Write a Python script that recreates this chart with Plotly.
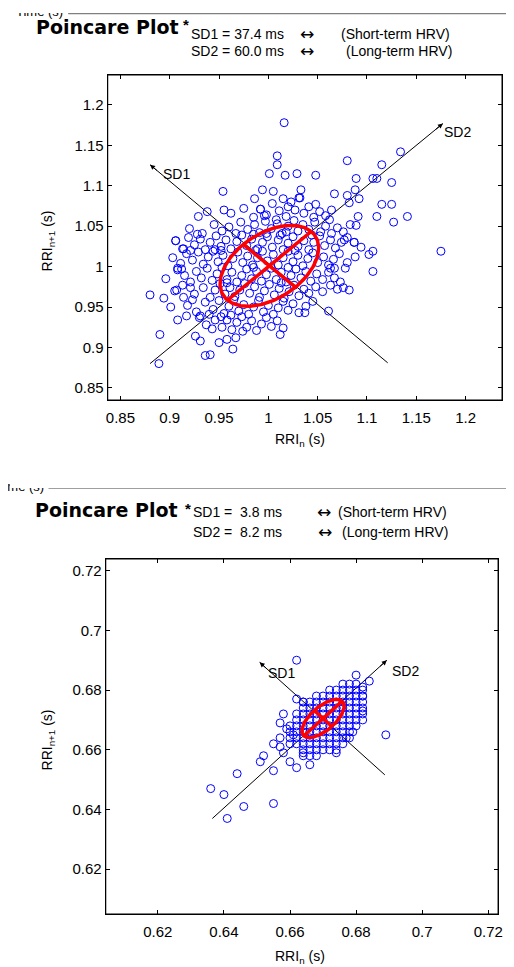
import numpy as np
import plotly.graph_objects as go

# page has an 8px body margin, so the figure is drawn 8px in from the window edge
OFF = 8
W, H = 514 - OFF, 967 - OFF

# ---- summary values (ms) and cloud centres (s)
TOP_SD1, TOP_SD2 = 37.4, 60.0
BOT_SD1, BOT_SD2 = 3.8, 8.2
TOP_CENTER = (1.001, 1.001)
BOT_CENTER = (0.670, 0.6705)

TOP_TICKS = [0.85, 0.9, 0.95, 1.0, 1.05, 1.1, 1.15, 1.2]
TOP_TICK_TEXT = ["0.85", "0.9", "0.95", "1", "1.05", "1.1", "1.15", "1.2"]
BOT_TICKS = [0.62, 0.64, 0.66, 0.68, 0.7, 0.72]
BOT_TICK_TEXT = ["0.62", "0.64", "0.66", "0.68", "0.7", "0.72"]

# SD1 / SD2 guide lines (start, arrow tip)
TOP_SD2_LINE = [(0.880, 0.880), (1.177, 1.177)]
TOP_SD1_LINE = [(1.121, 0.881), (0.880, 1.126)]
BOT_SD2_LINE = [(0.6365, 0.6370), (0.6893, 0.6900)]
BOT_SD1_LINE = [(0.6887, 0.6516), (0.6508, 0.6893)]

# ---- top plot points (RRI_n, RRI_n+1)
TOP_OUTER = [
    (1.016, 1.178), (1.009, 1.137), (1.009, 1.126), (1.001, 1.115), (1.017, 1.113),
    (1.029, 1.115), (1.048, 1.113), (1.080, 1.131), (1.115, 1.126), (1.134, 1.142),
    (1.089, 1.109), (1.106, 1.109), (1.110, 1.109), (1.125, 1.104), (1.067, 1.090),
    (1.080, 1.088), (1.088, 1.095), (1.092, 1.084), (1.082, 1.079), (1.115, 1.077),
    (1.125, 1.077), (1.091, 1.062), (1.110, 1.062), (1.127, 1.055), (1.141, 1.062),
    (1.089, 1.051), (1.175, 1.019), (1.106, 1.019), (1.102, 1.015), (1.106, 0.994),
    (1.061, 0.945), (1.037, 0.943), (1.082, 0.971), (1.076, 0.974), (1.063, 0.998),
    (1.067, 0.998), (1.078, 0.998), (1.087, 1.030), (1.077, 1.033), (0.994, 1.095),
    (1.005, 1.093), (0.986, 1.084), (1.033, 1.095), (1.032, 1.085), (0.954, 1.093),
    (0.955, 1.070), (0.938, 1.068), (0.929, 1.062), (0.992, 1.071), (0.996, 1.063),
    (1.020, 1.074), (1.048, 1.077), (0.880, 0.965), (0.894, 0.961), (0.901, 0.950),
    (0.908, 0.934), (0.890, 0.916), (0.889, 0.880), (0.917, 0.939), (0.914, 0.962),
    (0.906, 1.032), (0.908, 0.998), (0.907, 0.971), (0.921, 0.974), (0.923, 0.959),
    (0.926, 0.914), (0.931, 0.908), (0.936, 0.890), (0.941, 0.891), (0.950, 0.906),
    (0.958, 0.910), (0.964, 0.898), (0.967, 0.912), (1.012, 0.916), (0.931, 0.939),
    (0.943, 0.923), (0.921, 1.020), (0.914, 1.022),
]
TOP_CORE = [
    (0.962, 1.066), (0.975, 1.072), (0.985, 1.061), (0.992, 1.071), (0.998, 1.064),
    (1.004, 1.078), (1.011, 1.069), (1.018, 1.062), (1.023, 1.080), (1.027, 1.070),
    (1.031, 1.085), (1.036, 1.066), (1.041, 1.074), (1.046, 1.061), (1.052, 1.068),
    (1.058, 1.063), (1.064, 1.070), (1.015, 1.084), (1.008, 1.058),
    (0.920, 1.047), (0.933, 1.041), (0.945, 1.052), (0.953, 1.044), (0.960, 1.049),
    (0.967, 1.041), (0.972, 1.055), (0.979, 1.046), (0.986, 1.052), (0.991, 1.042),
    (0.997, 1.056), (1.003, 1.047), (1.009, 1.053), (1.014, 1.041), (1.020, 1.050),
    (1.026, 1.057), (1.030, 1.044), (1.035, 1.052), (1.041, 1.046), (1.047, 1.055),
    (1.053, 1.043), (1.058, 1.050), (1.064, 1.041), (1.070, 1.048), (1.076, 1.043),
    (1.083, 1.052), (1.062, 1.058), (0.998, 1.041), (1.018, 1.043),
    (0.906, 1.032), (0.913, 1.022), (0.919, 1.036), (0.925, 1.027), (0.931, 1.034),
    (0.936, 1.021), (0.941, 1.030), (0.947, 1.038), (0.952, 1.025), (0.957, 1.033),
    (0.962, 1.022), (0.968, 1.031), (0.973, 1.039), (0.978, 1.026), (0.983, 1.034),
    (0.989, 1.022), (0.994, 1.030), (0.999, 1.037), (1.004, 1.024), (1.010, 1.033),
    (1.015, 1.021), (1.020, 1.029), (1.025, 1.037), (1.030, 1.025), (1.036, 1.032),
    (1.041, 1.021), (1.046, 1.030), (1.052, 1.038), (1.057, 1.026), (1.063, 1.033),
    (1.068, 1.023), (1.074, 1.030), (1.080, 1.036), (1.087, 1.030), (1.094, 1.024),
    (0.928, 1.040), (0.946, 1.021), (0.985, 1.040), (1.012, 1.039), (1.044, 1.039),
    (0.903, 1.011), (0.911, 1.004), (0.917, 1.016), (0.923, 1.008), (0.929, 1.018),
    (0.934, 1.003), (0.939, 1.012), (0.944, 1.019), (0.949, 1.006), (0.954, 1.014),
    (0.959, 1.001), (0.964, 1.010), (0.969, 1.018), (0.974, 1.005), (0.979, 1.013),
    (0.984, 1.002), (0.989, 1.011), (0.994, 1.019), (0.999, 1.007), (1.005, 1.015),
    (1.010, 1.002), (1.015, 1.011), (1.020, 1.019), (1.025, 1.006), (1.030, 1.014),
    (1.035, 1.001), (1.040, 1.010), (1.045, 1.017), (1.050, 1.005), (1.056, 1.012),
    (1.061, 1.002), (1.066, 1.009), (1.072, 1.016), (1.080, 1.005), (1.088, 1.012),
    (0.952, 1.020), (0.987, 1.020), (1.027, 1.020),
    (0.896, 0.985), (0.908, 0.996), (0.915, 0.989), (0.921, 0.981), (0.927, 0.994),
    (0.932, 0.986), (0.938, 0.998), (0.943, 0.983), (0.948, 0.991), (0.953, 0.999),
    (0.958, 0.984), (0.963, 0.993), (0.968, 0.981), (0.973, 0.989), (0.978, 0.997),
    (0.983, 0.985), (0.988, 0.994), (0.993, 0.982), (0.998, 0.990), (1.003, 0.998),
    (1.008, 0.984), (1.013, 0.993), (1.018, 0.981), (1.023, 0.989), (1.028, 0.997),
    (1.033, 0.986), (1.038, 0.994), (1.043, 0.982), (1.049, 0.991), (1.055, 0.984),
    (1.061, 0.993), (1.067, 0.986), (1.073, 0.981), (0.912, 0.997), (0.985, 0.999),
    (1.020, 0.999),
    (0.905, 0.970), (0.913, 0.977), (0.925, 0.966), (0.934, 0.974), (0.941, 0.962),
    (0.946, 0.971), (0.951, 0.979), (0.956, 0.966), (0.961, 0.974), (0.966, 0.963),
    (0.971, 0.971), (0.976, 0.979), (0.981, 0.967), (0.986, 0.975), (0.991, 0.962),
    (0.996, 0.970), (1.001, 0.978), (1.006, 0.965), (1.011, 0.973), (1.016, 0.961),
    (1.021, 0.969), (1.026, 0.977), (1.031, 0.964), (1.036, 0.972), (1.041, 0.967),
    (1.048, 0.975), (1.055, 0.969), (1.063, 0.977), (1.070, 0.972), (0.958, 0.980),
    (1.013, 0.980),
    (0.918, 0.952), (0.927, 0.944), (0.936, 0.956), (0.944, 0.947), (0.950, 0.958),
    (0.955, 0.942), (0.960, 0.951), (0.965, 0.959), (0.970, 0.945), (0.975, 0.953),
    (0.980, 0.941), (0.985, 0.950), (0.990, 0.958), (0.995, 0.944), (1.000, 0.952),
    (1.005, 0.941), (1.010, 0.949), (1.015, 0.957), (1.020, 0.946), (1.025, 0.954),
    (1.031, 0.943), (1.038, 0.951), (1.045, 0.957), (0.940, 0.941), (0.962, 0.940),
    (0.930, 0.937), (0.937, 0.928), (0.946, 0.934), (0.953, 0.925), (0.958, 0.934),
    (0.963, 0.922), (0.968, 0.931), (0.973, 0.938), (0.978, 0.925), (0.983, 0.933),
    (0.988, 0.921), (0.993, 0.929), (0.998, 0.937), (1.003, 0.926), (1.009, 0.933),
    (1.015, 0.924), (0.974, 0.920), (0.952, 0.938),
]

# ---- bottom plot points
BOT_OUTER = [
    (0.662, 0.690), (0.636, 0.647), (0.640, 0.645), (0.641, 0.637), (0.646, 0.641),
    (0.644, 0.652), (0.655, 0.642), (0.655, 0.653), (0.651, 0.656), (0.652, 0.658),
    (0.655, 0.662), (0.658, 0.672), (0.657, 0.669), (0.657, 0.664), (0.658, 0.659),
    (0.660, 0.656), (0.662, 0.654), (0.666, 0.655), (0.666, 0.658), (0.664, 0.659),
    (0.662, 0.677), (0.689, 0.665), (0.674, 0.659), (0.680, 0.685), (0.684, 0.683),
    (0.682, 0.670), (0.682, 0.673), (0.682, 0.678), (0.682, 0.681), (0.657, 0.661),
    (0.664, 0.676), (0.659, 0.667), (0.661, 0.665), (0.677, 0.664), (0.679, 0.666),
]
# dense, quantised part: one row per RRI_n+1 value
BOT_ROW_Y = [0.658, 0.660, 0.662, 0.664, 0.666, 0.668, 0.670, 0.672, 0.674, 0.676, 0.678, 0.680, 0.682]
BOT_ROW_X = [
    [0.664, 0.668],
    [0.664, 0.666, 0.668, 0.670, 0.672, 0.674],
    [0.660, 0.662, 0.664, 0.666, 0.668, 0.670, 0.672, 0.674, 0.676],
    [0.660, 0.662, 0.664, 0.666, 0.668, 0.670, 0.672, 0.674, 0.676, 0.678],
    [0.660, 0.662, 0.664, 0.666, 0.668, 0.670, 0.672, 0.674, 0.676, 0.678],
    [0.660, 0.662, 0.664, 0.666, 0.668, 0.670, 0.672, 0.674, 0.676, 0.678, 0.680],
    [0.662, 0.664, 0.666, 0.668, 0.670, 0.672, 0.674, 0.676, 0.678, 0.680],
    [0.662, 0.664, 0.666, 0.668, 0.670, 0.672, 0.674, 0.676, 0.678, 0.680, 0.682],
    [0.664, 0.666, 0.668, 0.670, 0.672, 0.674, 0.676, 0.678, 0.680, 0.682],
    [0.664, 0.666, 0.668, 0.670, 0.672, 0.674, 0.676, 0.678, 0.680, 0.682],
    [0.668, 0.670, 0.672, 0.674, 0.676, 0.678, 0.680, 0.682],
    [0.672, 0.674, 0.676, 0.678, 0.680, 0.682],
    [0.676, 0.678, 0.680],
]

FONT = "Liberation Sans, Arial, sans-serif"
BLUE = "#0000ff"
RED = "#ff0000"


def px(x):
    return (x - OFF) / W


def py(y):
    return 1 - (y - OFF) / H


fig = go.Figure()


def add_panel(xa, ya, outer, core, sd1, sd2, center, sd1_line, sd2_line):
    xs = [p[0] for p in outer] + [p[0] for p in core]
    ys = [p[1] for p in outer] + [p[1] for p in core]
    # black SD guide lines
    for line in (sd1_line, sd2_line):
        fig.add_trace(go.Scatter(x=[line[0][0], line[1][0]], y=[line[0][1], line[1][1]],
                                 mode="lines", line=dict(color="black", width=1),
                                 xaxis=xa, yaxis=ya, hoverinfo="skip"))
    fig.add_trace(go.Scatter(x=xs, y=ys, mode="markers", xaxis=xa, yaxis=ya,
                             marker=dict(symbol="circle-open", size=8, color=BLUE,
                                         line=dict(width=1, color=BLUE))))
    # fitted ellipse from SD1 / SD2
    s1, s2 = sd1 / 1000.0, sd2 / 1000.0
    cx, cy = center
    t = np.linspace(0, 2 * np.pi, 200)
    u, v = s2 * np.cos(t), s1 * np.sin(t)
    r = np.sqrt(0.5)
    fig.add_trace(go.Scatter(x=cx + (u - v) * r, y=cy + (u + v) * r, mode="lines",
                             line=dict(color=RED, width=3.5), xaxis=xa, yaxis=ya))
    fig.add_trace(go.Scatter(x=[cx - s2 * r, cx + s2 * r], y=[cy - s2 * r, cy + s2 * r],
                             mode="lines", line=dict(color=RED, width=3.5), xaxis=xa, yaxis=ya))
    fig.add_trace(go.Scatter(x=[cx + s1 * r, cx - s1 * r], y=[cy - s1 * r, cy + s1 * r],
                             mode="lines", line=dict(color=RED, width=3.5), xaxis=xa, yaxis=ya))


bot_core = [(x, y) for y, row in zip(BOT_ROW_Y, BOT_ROW_X) for x in row]

add_panel("x", "y", TOP_OUTER, TOP_CORE, TOP_SD1, TOP_SD2, TOP_CENTER, TOP_SD1_LINE, TOP_SD2_LINE)
add_panel("x2", "y2", BOT_OUTER, bot_core, BOT_SD1, BOT_SD2, BOT_CENTER, BOT_SD1_LINE, BOT_SD2_LINE)

axis_common = dict(showline=True, linecolor="black", linewidth=1, mirror="allticks",
                   ticks="inside", ticklen=4, tickcolor="black", showgrid=False,
                   zeroline=False, tickfont=dict(family=FONT, size=15, color="black"))

fig.update_layout(
    width=W, height=H, showlegend=False,
    paper_bgcolor="white", plot_bgcolor="white",
    margin=dict(l=0, r=0, t=0, b=0),
    xaxis=dict(domain=[px(107), px(507)], anchor="y", range=[0.837, 1.237],
               tickvals=TOP_TICKS, ticktext=TOP_TICK_TEXT, ticklabelstandoff=4, **axis_common),
    yaxis=dict(domain=[py(400), py(75)], anchor="x", range=[0.835, 1.237],
               tickvals=TOP_TICKS, ticktext=TOP_TICK_TEXT, **axis_common),
    xaxis2=dict(domain=[px(105), px(503)], anchor="y2", range=[0.6042, 0.723],
                tickvals=BOT_TICKS, ticktext=BOT_TICK_TEXT, ticklabelstandoff=4, **axis_common),
    yaxis2=dict(domain=[py(914), py(559)], anchor="x2", range=[0.605, 0.7239],
                tickvals=BOT_TICKS, ticktext=BOT_TICK_TEXT, **axis_common),
)

ann = []


def text(t, x, y, size=14, xanchor="left", family=FONT, angle=0):
    ann.append(dict(text=t, x=px(x), y=py(y), xref="paper", yref="paper",
                    xanchor=xanchor, yanchor="middle", showarrow=False, textangle=angle,
                    font=dict(family=family, size=size, color="black")))


# clipped "Time (s)" labels from the plot above, partly hidden
text("Time (s)", 64, 12, size=13, xanchor="right")
text("Time (s)", 44, 487, size=13, xanchor="right")
for top, hgt in ((OFF, 12.5 - OFF), (474, 13.5)):
    ann.append(dict(text=" ", x=0, y=py(top), xref="paper", yref="paper", xanchor="left",
                    yanchor="top", width=W, height=hgt, bgcolor="white", borderpad=0,
                    borderwidth=0, showarrow=False))

# headers
bold = "DejaVu Sans, sans-serif"
arrow_font = "DejaVu Sans, sans-serif"
text("<b>Poincare Plot</b>", 32, 27, size=19, family=bold)
text("<b>*</b>", 181, 25, size=15)
text("SD1 = 37.4 ms", 190, 34)
text("\u2194", 309, 34, size=17, xanchor="center", family=arrow_font)
text("(Short-term HRV)", 342, 34)
text("SD2 = 60.0 ms", 190, 51)
text("\u2194", 309, 51, size=17, xanchor="center", family=arrow_font)
text("(Long-term HRV)", 347, 51)

text("<b>Poincare Plot</b>", 31, 510, size=19, family=bold)
text("<b>*</b>", 183, 508, size=15)
text("SD1 =  3.8 ms", 192, 512)
text("\u2194", 326, 512, size=17, xanchor="center", family=arrow_font)
text("(Short-term HRV)", 339, 512)
text("SD2 =  8.2 ms", 192, 532)
text("\u2194", 327, 532, size=17, xanchor="center", family=arrow_font)
text("(Long-term HRV)", 343, 532)

# axis titles
text("RRI<sub>n+1</sub> (s)", 47, 241, xanchor="center", angle=-90)
text("RRI<sub>n</sub> (s)", 302, 440, xanchor="center")
text("RRI<sub>n+1</sub> (s)", 47, 740, xanchor="center", angle=-90)
text("RRI<sub>n</sub> (s)", 302, 957, xanchor="center")

# SD labels and arrow heads (data coords)
for xr, yr, sd1_line, sd2_line, lab1, lab2, step in (
        ("x", "y", TOP_SD1_LINE, TOP_SD2_LINE, (0.907, 1.114), (1.192, 1.166), 0.012),
        ("x2", "y2", BOT_SD1_LINE, BOT_SD2_LINE, (0.6575, 0.6856), (0.6949, 0.6865), 0.0035)):
    ann.append(dict(text="SD1", x=lab1[0], y=lab1[1], xref=xr, yref=yr, showarrow=False,
                    font=dict(family=FONT, size=14, color="black")))
    ann.append(dict(text="SD2", x=lab2[0], y=lab2[1], xref=xr, yref=yr, showarrow=False,
                    font=dict(family=FONT, size=14, color="black")))
    for line in (sd1_line, sd2_line):
        (x0, y0), (x1, y1) = line
        d = np.hypot(x1 - x0, y1 - y0)
        tx, ty = x1 - (x1 - x0) / d * step, y1 - (y1 - y0) / d * step
        ann.append(dict(text="", x=x1, y=y1, xref=xr, yref=yr, ax=tx, ay=ty, axref=xr, ayref=yr,
                        showarrow=True, arrowhead=2, arrowsize=1, arrowwidth=1, arrowcolor="black"))

fig.update_layout(annotations=ann)
# frames round both plots
for xr, yr in (("x", "y"), ("x2", "y2")):
    fig.add_shape(type="rect", xref=xr + " domain", yref=yr + " domain", x0=0, x1=1, y0=0, y1=1,
                  line=dict(color="black", width=1.2), layer="above")
fig.add_shape(type="line", xref="paper", yref="paper", x0=px(67), x1=1, y0=py(13.5), y1=py(13.5),
              line=dict(color="#7f7f7f", width=1.5))
fig.add_shape(type="line", xref="paper", yref="paper", x0=px(47), x1=1, y0=py(488), y1=py(488),
              line=dict(color="#7f7f7f", width=1.5))

fig.write_html("out.html")
